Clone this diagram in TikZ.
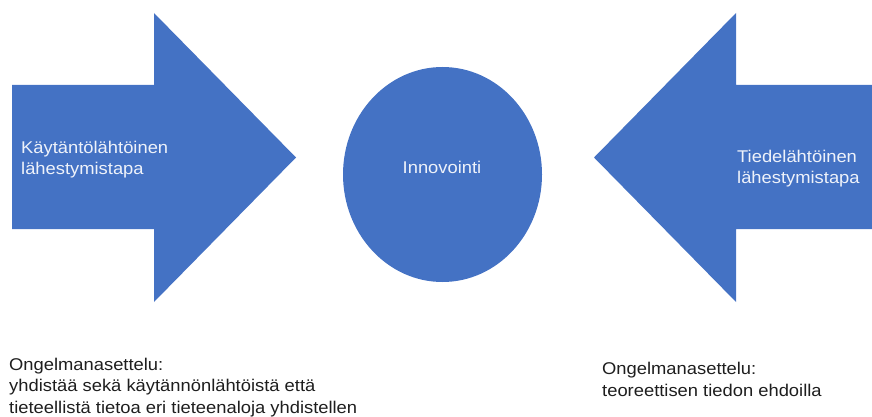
\documentclass[tikz,border=0pt]{standalone}
\usepackage{fontspec}
\setmainfont[FakeStretch=1.08]{Liberation Sans}
\definecolor{shapeblue}{HTML}{4472C4}
\definecolor{darktext}{HTML}{1E1E1E}
\definecolor{lighttext}{HTML}{EEF2FA}
\begin{document}
\begin{tikzpicture}[x=1pt,y=-1pt,
  intext/.style={text=lighttext,font=\fontsize{17}{20.5}\selectfont,align=left,inner sep=0pt,anchor=base west},
  bottomtext/.style={text=darktext,font=\fontsize{17}{21.5}\selectfont,align=left,inner sep=0pt,anchor=base west}]
\useasboundingbox (0,0) rectangle (872,417);
% left arrow
\fill[shapeblue] (12,85) -- (154,85) -- (154,13) -- (296,157.5) -- (154,302) -- (154,229) -- (12,229) -- cycle;
% right arrow
\fill[shapeblue] (872,85) -- (736,85) -- (736,13) -- (594,157.5) -- (736,302) -- (736,229) -- (872,229) -- cycle;
% circle
\fill[shapeblue] (442.5,174.5) ellipse [x radius=99.5, y radius=107.5];
% multi-line nodes: base anchor = baseline of last line
\node[intext] (lefttxt) at (21,174) {Käytäntölähtöinen\\lähestymistapa};
\node[intext] (righttxt) at (737,183) {Tiedelähtöinen\\lähestymistapa};
\node[text=lighttext,font=\fontsize{17}{21}\selectfont,inner sep=0pt,anchor=base] (innov) at (442,173) {Innovointi};
\node[bottomtext] (leftbottom) at (9,413) {Ongelmanasettelu:\\yhdistää sekä käytännönlähtöistä että\\tieteellistä tietoa eri tieteenaloja yhdistellen};
\node[bottomtext] (rightbottom) at (602,396) {Ongelmanasettelu:\\teoreettisen tiedon ehdoilla};
\end{tikzpicture}
\end{document}
